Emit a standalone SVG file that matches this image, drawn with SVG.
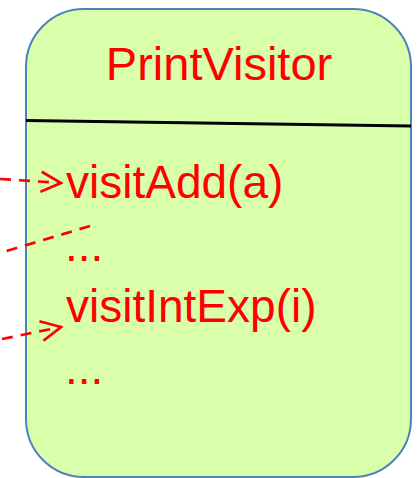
<svg xmlns="http://www.w3.org/2000/svg" width="417" height="478" viewBox="0 0 417 478">
  <style>
    .box { fill: #d9ffaa; stroke: #4f81bd; stroke-width: 2; }
    .sep { stroke: #000000; stroke-width: 3; fill: none; }
    .txt { font-family: "Liberation Sans", Arial, sans-serif; font-size: 46px; fill: #ff0000; }
    .title { font-size: 47px; }
    .conn { stroke: #ff0000; stroke-width: 2.7; fill: none; stroke-dasharray: 11 8; }
    .head { stroke: #ff0000; stroke-width: 2.7; fill: none; }
  </style>
  <defs>
    <marker id="open" markerUnits="userSpaceOnUse" markerWidth="24" markerHeight="24" refX="20" refY="10" orient="auto" viewBox="-2 -2 24 24">
      <path class="head" d="M0,0 L20,10 L0,20"/>
    </marker>
  </defs>
  <g id="PrintVisitor">
    <rect class="box" x="26" y="9" width="385" height="468" rx="58" ry="58"/>
    <line class="sep" x1="26" y1="120.5" x2="411" y2="126"/>
    <text class="txt title" x="219" y="80" text-anchor="middle">PrintVisitor</text>
    <text class="txt" x="66" y="198">visitAdd(a)</text>
    <text class="txt" x="65" y="261">...</text>
    <text class="txt" x="66" y="322">visitIntExp(i)</text>
    <text class="txt" x="65" y="384">...</text>
  </g>
  <g id="connectors">
    <path class="conn" d="M0,179 L61,183" marker-end="url(#open)"/>
    <path class="conn" d="M0,253 L90,226" stroke-dashoffset="12"/>
    <path class="conn" d="M2,339 L61,327" marker-end="url(#open)"/>
  </g>
</svg>
